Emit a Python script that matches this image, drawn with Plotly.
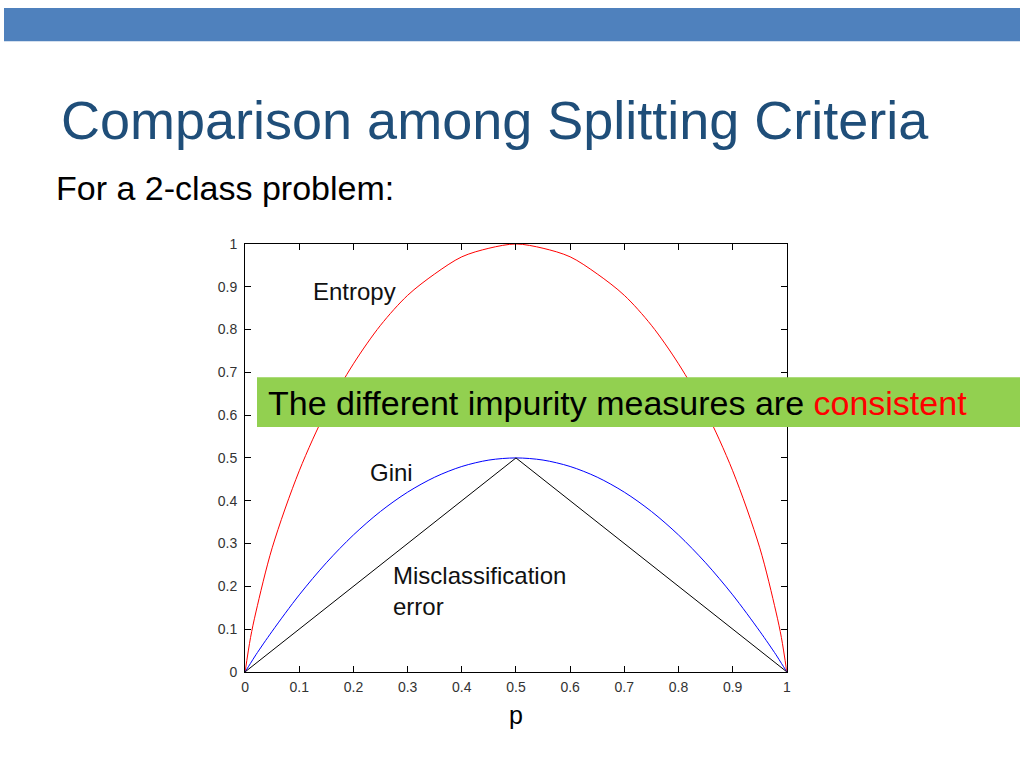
import plotly.graph_objects as go

# values (2-class problem, p = fraction of class 1)
p_values = [0, 0.01, 0.02, 0.05, 0.1, 0.15, 0.2, 0.25, 0.3, 0.35, 0.4, 0.45, 0.5,
            0.55, 0.6, 0.65, 0.7, 0.75, 0.8, 0.85, 0.9, 0.95, 0.98, 0.99, 1]
entropy = [0, 0.08, 0.14, 0.29, 0.47, 0.61, 0.72, 0.81, 0.88, 0.93, 0.97, 0.99, 1.0,
           0.99, 0.97, 0.93, 0.88, 0.81, 0.72, 0.61, 0.47, 0.29, 0.14, 0.08, 0]
gini = [0, 0.02, 0.04, 0.095, 0.18, 0.255, 0.32, 0.375, 0.42, 0.455, 0.48, 0.495, 0.5,
        0.495, 0.48, 0.455, 0.42, 0.375, 0.32, 0.255, 0.18, 0.095, 0.04, 0.02, 0]
misclass_p = [0, 0.5, 1]
misclass = [0, 0.5, 0]

tick_vals = [0, 0.1, 0.2, 0.3, 0.4, 0.5, 0.6, 0.7, 0.8, 0.9, 1]
tick_text = ["0", "0.1", "0.2", "0.3", "0.4", "0.5", "0.6", "0.7", "0.8", "0.9", "1"]

curve_labels = ["Entropy", "Gini", "Misclassification<br>error"]
label_pos = [(0.121, 0.89), (0.227, 0.465), (0.27, 0.189)]

W, H = 1024, 768


def px(x):
    return x / W


def py(y):
    # y measured in pixels from the top of the page
    return 1 - y / H


fig = go.Figure()
fig.add_trace(go.Scatter(x=p_values, y=entropy, mode="lines", name="Entropy",
                         line=dict(color="#ff0000", width=1, shape="spline", smoothing=0.9)))
fig.add_trace(go.Scatter(x=p_values, y=gini, mode="lines", name="Gini",
                         line=dict(color="#0000ff", width=1, shape="spline", smoothing=0.9)))
fig.add_trace(go.Scatter(x=misclass_p, y=misclass, mode="lines", name="Misclassification error",
                         line=dict(color="#000000", width=1)))

for txt, (lx, ly) in zip(curve_labels, label_pos):
    fig.add_annotation(x=lx, y=ly, xref="x", yref="y", text=txt, showarrow=False,
                       xanchor="left", yanchor="middle", align="left",
                       font=dict(family="Liberation Sans", size=24, color="#111111"))

# slide decoration: top band, title, subtitle
fig.add_shape(type="rect", xref="paper", yref="paper", x0=0, x1=1, y0=py(34), y1=1,
              fillcolor="#4f81bd", line_width=0, layer="above")
fig.add_annotation(x=px(55), y=py(114), xref="paper", yref="paper",
                   text="Comparison among Splitting Criteria", showarrow=False,
                   xanchor="left", yanchor="middle",
                   font=dict(family="Liberation Sans", size=54, color="#1f4e79"))
fig.add_annotation(x=px(50), y=py(184), xref="paper", yref="paper",
                   text="For a 2-class problem:", showarrow=False,
                   xanchor="left", yanchor="middle",
                   font=dict(family="Liberation Sans", size=34, color="#000000"))

# green callout box
fig.add_shape(type="rect", xref="paper", yref="paper",
              x0=px(255), x1=1, y0=py(428), y1=py(377),
              fillcolor="#92d050", line_width=0, layer="above")
fig.add_annotation(x=px(264), y=py(403), xref="paper", yref="paper",
                   text="The different impurity measures are <span style='color:#ff0000'>consistent</span>",
                   showarrow=False, xanchor="left", yanchor="middle",
                   font=dict(family="Liberation Sans", size=34, color="#000000"))

axis_style = dict(range=[0, 1], tickvals=tick_vals, ticktext=tick_text,
                  showline=True, linecolor="#000000", linewidth=1, mirror="ticks",
                  ticks="inside", ticklen=6, tickcolor="#000000", showgrid=False,
                  zeroline=False, tickfont=dict(family="Liberation Sans", size=14, color="#333333"))

fig.update_layout(
    width=W, height=H,
    margin=dict(l=0, r=0, t=0, b=0),
    paper_bgcolor="#ffffff", plot_bgcolor="#ffffff",
    showlegend=False,
    xaxis=dict(domain=[px(243), px(789)], ticklabelstandoff=2,
               title=dict(text="p", standoff=12,
                          font=dict(family="Liberation Sans", size=25, color="#000000")),
               **axis_style),
    yaxis=dict(domain=[py(678), py(241)], ticklabelstandoff=4, **axis_style),
)

# drop the default page margin so the 1024x768 figure sits flush in the window
fig.write_html("out.html", config={"displayModeBar": False},
               post_script="document.body.style.margin='0';document.body.style.overflow='hidden';")
